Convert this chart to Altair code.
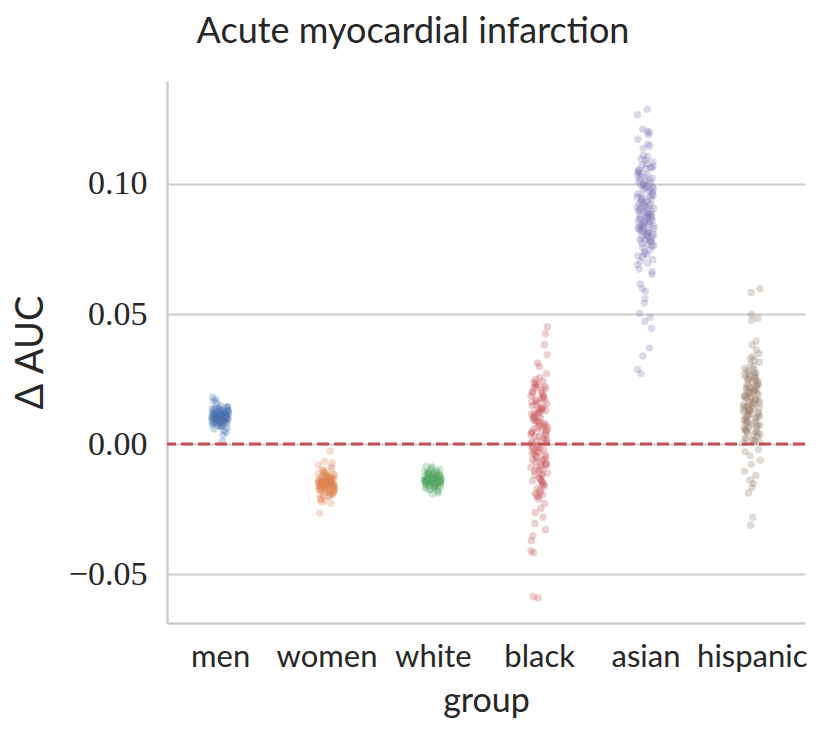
import altair as alt
import pandas as pd

groups = ["men", "women", "white", "black", "asian", "hispanic"]
colors = ["#4C72B0", "#DD8452", "#55A868", "#C44E52", "#8172B3", "#937860"]

men = [0.0105, 0.0098, 0.0112, 0.0087, 0.0121, 0.0094, 0.0108, 0.0131, 0.0076, 0.0102, 0.0117, 0.0089, 0.0099, 0.0125, 0.0081, 0.0110, 0.0093, 0.0136, 0.0104, 0.0071, 0.0115, 0.0097, 0.0128, 0.0085, 0.0107, 0.0119, 0.0091, 0.0101, 0.0143, 0.0066, 0.0113, 0.0095, 0.0122, 0.0088, 0.0109, 0.0138, 0.0079, 0.0103, 0.0116, 0.0092, 0.0100, 0.0127, 0.0083, 0.0111, 0.0096, 0.0133, 0.0074, 0.0106, 0.0120, 0.0090, 0.0148, 0.0058, 0.0114, 0.0098, 0.0124, 0.0086, 0.0108, 0.0140, 0.0077, 0.0102, 0.0118, 0.0093, 0.0101, 0.0129, 0.0084, 0.0112, 0.0095, 0.0135, 0.0070, 0.0105, 0.0123, 0.0089, 0.0165, 0.0050, 0.0110, 0.0097, 0.0126, 0.0082, 0.0107, 0.0139, 0.0180, 0.0035, 0.0158, 0.0062, 0.0115, 0.0099, 0.0121, 0.0087, 0.0104, 0.0010, 0.0172, 0.0045, 0.0130, 0.0080, 0.0113, 0.0094, 0.0145, 0.0068, 0.0109, 0.0100]

women = [-0.0152, -0.0141, -0.0163, -0.0128, -0.0175, -0.0146, -0.0158, -0.0119, -0.0187, -0.0150, -0.0134, -0.0169, -0.0143, -0.0181, -0.0124, -0.0155, -0.0139, -0.0196, -0.0148, -0.0110, -0.0166, -0.0137, -0.0178, -0.0131, -0.0160, -0.0145, -0.0201, -0.0102, -0.0153, -0.0171, -0.0127, -0.0149, -0.0185, -0.0115, -0.0157, -0.0140, -0.0192, -0.0122, -0.0162, -0.0147, -0.0176, -0.0133, -0.0151, -0.0208, -0.0095, -0.0168, -0.0138, -0.0183, -0.0126, -0.0156, -0.0144, -0.0213, -0.0088, -0.0159, -0.0173, -0.0130, -0.0150, -0.0189, -0.0112, -0.0164, -0.0142, -0.0198, -0.0118, -0.0154, -0.0170, -0.0135, -0.0218, -0.0080, -0.0161, -0.0148, -0.0179, -0.0125, -0.0152, -0.0194, -0.0106, -0.0167, -0.0139, -0.0223, -0.0072, -0.0157, -0.0174, -0.0129, -0.0146, -0.0186, -0.0116, -0.0160, -0.0228, -0.0066, -0.0153, -0.0200, -0.0098, -0.0165, -0.0143, -0.0265, -0.0027, -0.0155, -0.0182, -0.0121, -0.0149, -0.0172]

white = [-0.0138, -0.0132, -0.0145, -0.0126, -0.0151, -0.0135, -0.0142, -0.0120, -0.0157, -0.0139, -0.0129, -0.0148, -0.0136, -0.0162, -0.0117, -0.0141, -0.0133, -0.0154, -0.0124, -0.0146, -0.0137, -0.0168, -0.0110, -0.0143, -0.0131, -0.0150, -0.0127, -0.0140, -0.0159, -0.0114, -0.0144, -0.0134, -0.0173, -0.0105, -0.0139, -0.0147, -0.0122, -0.0136, -0.0155, -0.0118, -0.0142, -0.0130, -0.0165, -0.0108, -0.0140, -0.0149, -0.0125, -0.0137, -0.0178, -0.0098, -0.0143, -0.0133, -0.0152, -0.0121, -0.0138, -0.0160, -0.0113, -0.0145, -0.0131, -0.0170, -0.0102, -0.0141, -0.0148, -0.0128, -0.0135, -0.0183, -0.0092, -0.0139, -0.0156, -0.0116, -0.0144, -0.0134, -0.0163, -0.0107, -0.0140, -0.0150, -0.0123, -0.0137, -0.0188, -0.0087, -0.0142, -0.0132, -0.0158, -0.0119, -0.0146, -0.0136, -0.0175, -0.0100, -0.0139, -0.0153, -0.0126, -0.0141, -0.0192, -0.0085, -0.0143, -0.0130, -0.0166, -0.0111, -0.0138, -0.0147]

black = [0.0052, -0.0118, 0.0213, -0.0031, 0.0147, -0.0194, 0.0089, 0.0006, -0.0072, 0.0238, -0.0155, 0.0121, -0.0008, 0.0176, -0.0263, 0.0034, -0.0101, 0.0195, 0.0068, -0.0047, 0.0451, -0.0137, 0.0108, 0.0015, -0.0212, 0.0163, -0.0063, 0.0227, 0.0041, -0.0176, 0.0097, -0.0022, 0.0312, -0.0089, 0.0136, -0.0305, 0.0075, -0.0128, 0.0201, 0.0023, -0.0054, 0.0154, -0.0185, 0.0059, 0.0382, -0.0011, 0.0115, -0.0148, 0.0248, -0.0077, 0.0083, -0.0352, 0.0182, 0.0010, -0.0111, 0.0139, -0.0039, 0.0221, -0.0203, 0.0046, -0.0095, 0.0170, 0.0271, -0.0016, 0.0102, -0.0163, 0.0062, -0.0411, 0.0207, -0.0068, 0.0128, 0.0028, -0.0142, 0.0189, -0.0027, 0.0344, -0.0084, 0.0091, -0.0228, 0.0158, 0.0003, -0.0121, 0.0234, -0.0050, 0.0071, -0.0586, 0.0143, -0.0171, 0.0037, 0.0198, -0.0103, 0.0424, 0.0112, -0.0035, -0.0281, 0.0166, 0.0018, -0.0133, 0.0215, -0.0059, 0.0086, -0.0372, 0.0130, -0.0190, 0.0049, 0.0298, -0.0014, 0.0179, -0.0092, 0.0065, -0.0247, 0.0118, -0.0043, 0.0226, 0.0009, -0.0156, 0.0150, -0.0075, 0.0256, -0.0418, 0.0079, -0.0003, 0.0186, -0.0115, 0.0031, -0.0329, 0.0133, -0.0060, 0.0242, -0.0199, 0.0056, 0.0100, -0.0025, 0.0169, -0.0592, 0.0044, -0.0146, 0.0218, -0.0082, 0.0124]

asian = [0.0872, 0.0953, 0.0791, 0.1012, 0.0834, 0.0917, 0.0756, 0.1068, 0.0889, 0.0702, 0.0975, 0.0848, 0.1034, 0.0812, 0.0931, 0.0663, 0.1091, 0.0866, 0.0779, 0.0998, 0.0905, 0.1287, 0.0823, 0.0942, 0.0741, 0.1050, 0.0879, 0.0598, 0.0967, 0.0805, 0.1019, 0.0856, 0.0928, 0.0689, 0.1105, 0.0841, 0.0776, 0.0984, 0.0898, 0.1198, 0.0819, 0.0956, 0.0728, 0.1043, 0.0883, 0.0542, 0.0962, 0.0797, 0.1072, 0.0861, 0.0913, 0.0673, 0.1146, 0.0836, 0.0764, 0.0991, 0.0908, 0.0445, 0.1027, 0.0827, 0.0947, 0.0718, 0.1085, 0.0874, 0.0785, 0.1004, 0.0893, 0.1266, 0.0815, 0.0938, 0.0652, 0.1059, 0.0852, 0.0369, 0.0979, 0.0801, 0.1038, 0.0868, 0.0921, 0.0733, 0.1172, 0.0845, 0.0771, 0.0988, 0.0902, 0.0503, 0.1015, 0.0830, 0.0951, 0.0695, 0.1097, 0.0877, 0.0788, 0.1008, 0.0886, 0.1211, 0.0809, 0.0934, 0.0615, 0.1064, 0.0859, 0.0287, 0.0971, 0.0794, 0.1023, 0.0863, 0.0925, 0.0747, 0.1137, 0.0838, 0.0768, 0.0995, 0.0896, 0.0472, 0.1046, 0.0820, 0.0944, 0.0710, 0.1078, 0.0881, 0.0782, 0.1001, 0.0910, 0.1153, 0.0816, 0.0959, 0.0588, 0.1055, 0.0850, 0.0339, 0.0982, 0.0803, 0.1030, 0.0870, 0.0918, 0.0724, 0.1189, 0.0843, 0.0760, 0.0993, 0.0900, 0.0488, 0.1110, 0.0829, 0.1203, 0.0271, 0.1062, 0.0560]

hispanic = [0.0162, 0.0083, 0.0235, 0.0117, 0.0291, 0.0046, 0.0198, 0.0139, 0.0017, 0.0257, 0.0101, 0.0184, 0.0062, 0.0322, 0.0150, -0.0021, 0.0214, 0.0092, 0.0271, 0.0128, 0.0598, 0.0035, 0.0176, 0.0243, 0.0074, -0.0104, 0.0206, 0.0111, 0.0348, 0.0156, 0.0053, 0.0226, -0.0045, 0.0133, 0.0285, 0.0088, 0.0190, 0.0499, 0.0024, 0.0169, 0.0251, 0.0106, -0.0152, 0.0219, 0.0068, 0.0307, 0.0145, 0.0009, 0.0201, 0.0122, 0.0382, 0.0079, 0.0172, 0.0263, -0.0062, 0.0137, 0.0230, 0.0041, 0.0583, 0.0186, 0.0097, 0.0278, 0.0158, -0.0281, 0.0209, 0.0058, 0.0329, 0.0125, 0.0013, 0.0247, 0.0114, 0.0476, 0.0180, -0.0121, 0.0221, 0.0071, 0.0299, 0.0142, 0.0030, 0.0193, 0.0267, 0.0086, -0.0188, 0.0165, 0.0239, 0.0049, 0.0362, 0.0131, 0.0004, 0.0212, 0.0108, 0.0484, 0.0175, -0.0029, 0.0255, 0.0065, 0.0315, 0.0148, 0.0020, 0.0196, -0.0312, 0.0094, 0.0274, 0.0119, 0.0229, -0.0168, 0.0056, 0.0396, 0.0160, 0.0038, 0.0203, 0.0283, 0.0077, -0.0078, 0.0182, 0.0246, 0.0135, 0.0011, 0.0336, 0.0103, 0.0217, -0.0139, 0.0152, 0.0261, 0.0044]

series = [men, women, white, black, asian, hispanic]
y_ticks = [-0.05, 0.0, 0.05, 0.10]

rows = []
for gi, (g, vals) in enumerate(zip(groups, series)):
    for v in vals:
        rows.append({"group": g, "gi": gi, "delta": v})
df = pd.DataFrame(rows)

label_expr = "[" + ",".join(f"'{g}'" for g in groups) + "][datum.value]"
TXT = "#262626"
GRID = "#cccccc"

y_scale = alt.Scale(domain=[-0.0688, 0.1396], nice=False, zero=False)

points = alt.Chart(df).transform_window(
    idx="row_number()", groupby=["group"]
).transform_calculate(
    pos="datum.gi + ((datum.idx * 0.6180339887) % 1 - 0.5) * 0.16"
).mark_circle(size=55, opacity=0.28, strokeWidth=0).encode(
    x=alt.X("pos:Q",
            scale=alt.Scale(domain=[-0.5, 5.5], nice=False, zero=False),
            axis=alt.Axis(values=list(range(len(groups))), labelExpr=label_expr,
                          title="group", grid=False, ticks=False,
                          domainColor=GRID, domainWidth=2.5,
                          labelFont="Lato", labelFontSize=31, labelColor=TXT,
                          labelPadding=19,
                          titleFont="Lato", titleFontSize=34, titleColor=TXT,
                          titleFontWeight="normal", titleBaseline="alphabetic",
                          titleY=88)),
    y=alt.Y("delta:Q", scale=y_scale,
            axis=alt.Axis(values=y_ticks, format=".2f", title="Δ AUC",
                          grid=True, gridColor=GRID, gridWidth=2,
                          ticks=False, domainColor=GRID, domainWidth=2.5,
                          labelFont="Liberation Serif", labelFontSize=34,
                          labelColor=TXT, labelPadding=20,
                          titleFont="Lato", titleFontSize=38, titleColor=TXT,
                          titleFontWeight="normal", titleAngle=-90,
                          titleAlign="center", titleBaseline="middle",
                          titleX=-136, titleY=271)),
    color=alt.Color("group:N", scale=alt.Scale(domain=groups, range=colors), legend=None),
)

zero_line = alt.Chart(pd.DataFrame({"z": [0.0]})).mark_rule(
    color="#C44E52", strokeDash=[12, 5], strokeWidth=3
).encode(y=alt.Y("z:Q", scale=y_scale))

chart = alt.layer(points, zero_line).properties(
    width=638, height=542,
    background="white",
    title=alt.TitleParams("Acute myocardial infarction", font="Lato", fontSize=36,
                          fontWeight="normal", color=TXT, anchor="middle",
                          offset=30, dx=-73),
    padding={"left": 4, "top": 6, "right": 10, "bottom": 10},
).configure_view(stroke=None)

chart.save("out.html", embed_options={"renderer": "svg", "actions": False})
